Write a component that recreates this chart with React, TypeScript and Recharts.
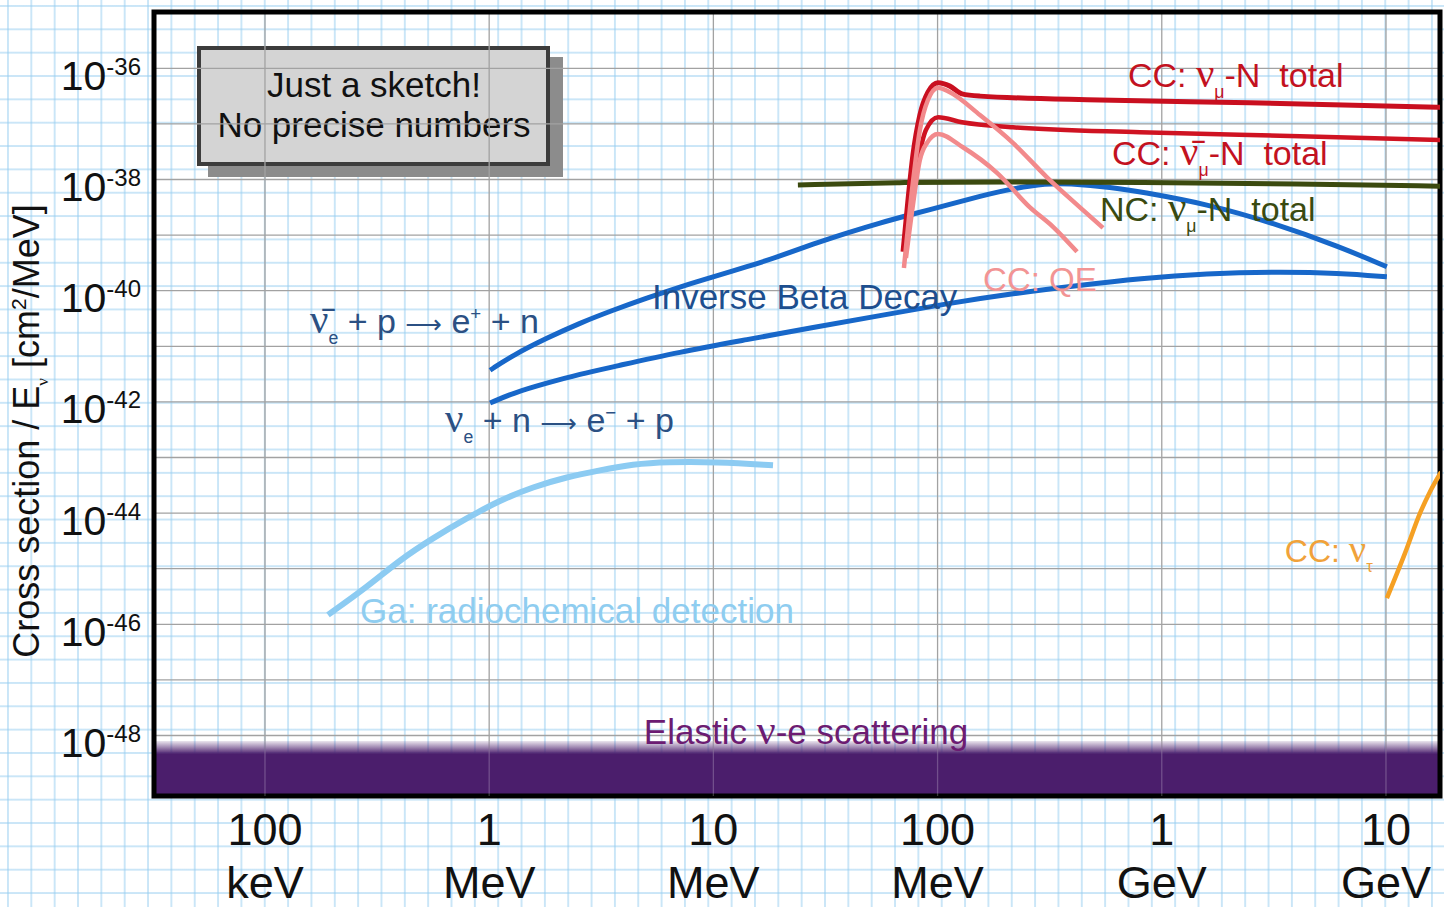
import React from 'react';
import {
  CartesianGrid,
  ComposedChart,
  Line,
  ReferenceArea,
  ReferenceDot,
  ReferenceLine,
  XAxis,
  YAxis,
} from 'recharts';

// x = log10(E / MeV), y = log10(sigma / E  in cm^2/MeV)
const xDomain: [number, number] = [-1.495, 4.241];
const yDomain: [number, number] = [-49.088, -34.987];

const xTicks = [-1, 0, 1, 2, 3, 4];
const xTickNumber = ['100', '1', '10', '100', '1', '10'];
const xTickUnit = ['keV', 'MeV', 'MeV', 'MeV', 'GeV', 'GeV'];

const yTicks = [-36, -37, -38, -39, -40, -41, -42, -43, -44, -45, -46, -47, -48];
const yLabelled = [-36, -38, -40, -42, -44, -46, -48];

const elasticTop = -48.1;

const ccNuTotal = [
  { e: 1.846, s: -39.3 },
  { e: 1.868, s: -38.37 },
  { e: 1.89, s: -37.56 },
  { e: 1.921, s: -36.84 },
  { e: 1.957, s: -36.43 },
  { e: 2.002, s: -36.26 },
  { e: 2.055, s: -36.32 },
  { e: 2.109, s: -36.46 },
  { e: 2.189, s: -36.5 },
  { e: 2.724, s: -36.57 },
  { e: 3.393, s: -36.62 },
  { e: 4.246, s: -36.7 },
];

const ccNubarTotal = [
  { e: 1.855, s: -39.27 },
  { e: 1.881, s: -38.37 },
  { e: 1.913, s: -37.65 },
  { e: 1.948, s: -37.11 },
  { e: 2.002, s: -36.88 },
  { e: 2.109, s: -36.97 },
  { e: 2.336, s: -37.06 },
  { e: 2.903, s: -37.15 },
  { e: 3.616, s: -37.22 },
  { e: 4.246, s: -37.29 },
];

const qeNu = [
  { e: 1.85, s: -39.59 },
  { e: 1.886, s: -38.19 },
  { e: 1.921, s: -37.11 },
  { e: 1.957, s: -36.57 },
  { e: 2.002, s: -36.35 },
  { e: 2.055, s: -36.43 },
  { e: 2.189, s: -36.84 },
  { e: 2.336, s: -37.34 },
  { e: 2.488, s: -37.96 },
  { e: 2.635, s: -38.5 },
  { e: 2.738, s: -38.87 },
];

const qeNubar = [
  { e: 1.859, s: -39.41 },
  { e: 1.89, s: -38.46 },
  { e: 1.921, s: -37.65 },
  { e: 1.953, s: -37.34 },
  { e: 2.002, s: -37.18 },
  { e: 2.113, s: -37.42 },
  { e: 2.265, s: -37.88 },
  { e: 2.412, s: -38.5 },
  { e: 2.515, s: -38.85 },
  { e: 2.622, s: -39.3 },
];

const ncTotal = [
  { e: 1.377, s: -38.1 },
  { e: 1.832, s: -38.05 },
  { e: 2.278, s: -38.04 },
  { e: 2.903, s: -38.05 },
  { e: 3.616, s: -38.08 },
  { e: 4.246, s: -38.12 },
];

const ibdNubar = [
  { e: 0.004, s: -41.43 },
  { e: 0.106, s: -41.16 },
  { e: 0.258, s: -40.85 },
  { e: 0.405, s: -40.58 },
  { e: 0.552, s: -40.35 },
  { e: 0.704, s: -40.13 },
  { e: 0.851, s: -39.93 },
  { e: 0.998, s: -39.75 },
  { e: 1.15, s: -39.57 },
  { e: 1.297, s: -39.38 },
  { e: 1.444, s: -39.16 },
  { e: 1.596, s: -38.96 },
  { e: 1.743, s: -38.78 },
  { e: 1.89, s: -38.62 },
  { e: 2.042, s: -38.46 },
  { e: 2.189, s: -38.3 },
  { e: 2.336, s: -38.16 },
  { e: 2.488, s: -38.07 },
  { e: 2.577, s: -38.07 },
  { e: 2.782, s: -38.14 },
  { e: 2.903, s: -38.22 },
  { e: 3.202, s: -38.44 },
  { e: 3.496, s: -38.78 },
  { e: 3.795, s: -39.21 },
  { e: 4.004, s: -39.57 },
];

const ibdNu = [
  { e: 0.004, s: -42.02 },
  { e: 0.106, s: -41.84 },
  { e: 0.258, s: -41.66 },
  { e: 0.405, s: -41.5 },
  { e: 0.552, s: -41.37 },
  { e: 0.851, s: -41.1 },
  { e: 1.15, s: -40.88 },
  { e: 1.444, s: -40.66 },
  { e: 1.743, s: -40.45 },
  { e: 2.042, s: -40.23 },
  { e: 2.336, s: -40.05 },
  { e: 2.635, s: -39.9 },
  { e: 2.903, s: -39.78 },
  { e: 3.202, s: -39.69 },
  { e: 3.496, s: -39.66 },
  { e: 3.795, s: -39.68 },
  { e: 4.004, s: -39.75 },
];

const gaRadiochem = [
  { e: -0.719, s: -45.83 },
  { e: -0.545, s: -45.33 },
  { e: -0.398, s: -44.84 },
  { e: -0.251, s: -44.45 },
  { e: -0.099, s: -44.09 },
  { e: 0.048, s: -43.77 },
  { e: 0.195, s: -43.53 },
  { e: 0.347, s: -43.35 },
  { e: 0.494, s: -43.23 },
  { e: 0.641, s: -43.12 },
  { e: 0.793, s: -43.08 },
  { e: 1.016, s: -43.08 },
  { e: 1.266, s: -43.14 },
];

const ccTau = [
  { e: 4.004, s: -45.53 },
  { e: 4.085, s: -44.72 },
  { e: 4.152, s: -44.0 },
  { e: 4.196, s: -43.62 },
  { e: 4.246, s: -43.26 },
];

const FONT = '"Liberation Sans", Arial, Helvetica, sans-serif';
const GREEK = '"Liberation Serif", "DejaVu Serif", serif';
const SYMBOL = '"DejaVu Sans", sans-serif';

type Part = { t: string; k?: 'sub' | 'sup' | 'greek' | 'sym' };
type Note = { e: number; s: number; color: string; size: number; parts: Part[] };

const notes: Note[] = [
  {
    e: 2.849, s: -36.336, color: '#c3121f', size: 34,
    parts: [{ t: 'CC: ' }, { t: 'ν', k: 'greek' }, { t: 'μ', k: 'sub' }, { t: '-N  total' }],
  },
  {
    e: 2.778, s: -37.739, color: '#c3121f', size: 34,
    parts: [{ t: 'CC: ' }, { t: 'ν\u0304', k: 'greek' }, { t: 'μ', k: 'sub' }, { t: '-N  total' }],
  },
  {
    e: 2.724, s: -38.746, color: '#3a4a10', size: 34,
    parts: [{ t: 'NC: ' }, { t: 'ν', k: 'greek' }, { t: 'μ', k: 'sub' }, { t: '-N  total' }],
  },
  { e: 2.203, s: -40.005, color: '#f29494', size: 33, parts: [{ t: 'CC: QE' }] },
  { e: 0.726, s: -40.33, color: '#1d4f8f', size: 35, parts: [{ t: 'Inverse Beta Decay' }] },
  {
    e: -0.799, s: -40.761, color: '#2b5083', size: 34,
    parts: [
      { t: 'ν\u0304', k: 'greek' }, { t: 'e', k: 'sub' }, { t: ' + p ' }, { t: '⟶', k: 'sym' },
      { t: ' e' }, { t: '+', k: 'sup' }, { t: ' + n' },
    ],
  },
  {
    e: -0.197, s: -42.541, color: '#2b5083', size: 34,
    parts: [
      { t: 'ν', k: 'greek' }, { t: 'e', k: 'sub' }, { t: ' + n ' }, { t: '⟶', k: 'sym' },
      { t: ' e' }, { t: '−', k: 'sup' }, { t: ' + p' },
    ],
  },
  { e: -0.576, s: -45.97, color: '#8fcdf0', size: 35, parts: [{ t: 'Ga: radiochemical detection' }] },
  {
    e: 0.69, s: -48.153, color: '#6c1c72', size: 35,
    parts: [{ t: 'Elastic ' }, { t: 'ν', k: 'greek' }, { t: '-e scattering' }],
  },
  {
    e: 3.549, s: -44.878, color: '#f0a23a', size: 32,
    parts: [{ t: 'CC: ' }, { t: 'ν', k: 'greek' }, { t: 'τ', k: 'sub' }],
  },
];

function renderParts(parts: Part[], size: number) {
  let shift = 0;
  return parts.map((p, i) => {
    let target = 0;
    let fs = size;
    let family: string | undefined;
    if (p.k === 'sub') {
      target = size * 0.32;
      fs = size * 0.52;
    } else if (p.k === 'sup') {
      target = -size * 0.38;
      fs = size * 0.55;
    } else if (p.k === 'greek') {
      family = GREEK;
      fs = size * 1.2;
    } else if (p.k === 'sym') {
      family = SYMBOL;
      fs = size * 0.75;
    }
    const dy = target - shift;
    shift = target;
    return (
      <tspan key={i} dy={dy} fontSize={fs} fontFamily={family}>
        {p.t}
      </tspan>
    );
  });
}

const NoteLabel = (note: Note) => (props: any) => {
  const { x, y } = props.viewBox;
  return (
    <text x={x} y={y} fill={note.color} fontSize={note.size} fontFamily={FONT} style={{ whiteSpace: 'pre' }}>
      {renderParts(note.parts, note.size)}
    </text>
  );
};

const XTick = (props: any) => {
  const { x, y, payload } = props;
  const i = xTicks.indexOf(payload.value);
  return (
    <g>
      <text x={x} y={y} dy={41} textAnchor="middle" fontSize={45} fill="#111" fontFamily={FONT}>
        {xTickNumber[i]}
      </text>
      <text x={x} y={y} dy={94} textAnchor="middle" fontSize={45} fill="#111" fontFamily={FONT}>
        {xTickUnit[i]}
      </text>
    </g>
  );
};

const YTick = (props: any) => {
  const { x, y, payload } = props;
  if (!yLabelled.includes(payload.value)) return <g />;
  return (
    <text x={x} y={y} dx={-5} dy={21.5} textAnchor="end" fill="#111" fontFamily={FONT}>
      <tspan fontSize={41}>10</tspan>
      <tspan fontSize={24} dy={-15}>{String(payload.value)}</tspan>
    </text>
  );
};

const YTitle = (props: any) => {
  const vb = props.viewBox;
  const cx = vb.x + 39;
  const cy = vb.y + vb.height / 2 + 27;
  return (
    <text
      transform={`translate(${cx},${cy}) rotate(-90)`}
      textAnchor="middle"
      fontSize={36}
      fill="#111"
      fontFamily={FONT}
    >
      <tspan>Cross section / E</tspan>
      <tspan fontSize={17} dy={9} fontFamily={GREEK}>ν</tspan>
      <tspan dy={-9}> [cm</tspan>
      <tspan fontSize={21} dy={-13}>2</tspan>
      <tspan dy={13}>/MeV]</tspan>
    </text>
  );
};

const paper = 'rgba(150, 205, 240, 0.5)';

export default function App() {
  return (
    <div
      style={{
        position: 'relative',
        width: 1444,
        height: 907,
        overflow: 'hidden',
        backgroundColor: '#fff',
        backgroundImage: `linear-gradient(to right, ${paper} 2px, transparent 2px), linear-gradient(to bottom, ${paper} 2px, transparent 2px)`,
        backgroundSize: '23.354px 23.354px',
        backgroundPosition: '7px 5px',
      }}
    >
      <style>{'body{margin:0}'}</style>
      <svg width={1444} height={907} style={{ position: 'absolute', left: 0, top: 0 }}>
        <rect x={208} y={57} width={355} height={120} fill="#8c8c8c" />
        <rect x={199} y={48} width={349} height={116} fill="#d4d4d4" stroke="#3c3c3c" strokeWidth={4} />
        <text x={374} y={97} textAnchor="middle" fontSize={35} fill="#111" fontFamily={FONT}>
          Just a sketch!
        </text>
        <text x={374} y={137} textAnchor="middle" fontSize={35} fill="#111" fontFamily={FONT}>
          No precise numbers
        </text>
      </svg>
      <div style={{ position: 'absolute', left: 0, top: 0 }}>
        <ComposedChart
          width={1444}
          height={907}
          margin={{ top: 12, right: 4, bottom: 0, left: 0 }}
          style={{ fontFamily: FONT }}
        >
          <defs>
            <linearGradient id="elasticFill" x1="0" y1="0" x2="0" y2="1">
              <stop offset="0%" stopColor="#4b1e6c" stopOpacity={0.12} />
              <stop offset="12%" stopColor="#4b1e6c" stopOpacity={0.55} />
              <stop offset="24%" stopColor="#4b1e6c" stopOpacity={1} />
              <stop offset="100%" stopColor="#4b1e6c" stopOpacity={1} />
            </linearGradient>
          </defs>
          <CartesianGrid stroke="#a2a2a2" strokeWidth={1.3} />
          <XAxis
            type="number"
            dataKey="e"
            domain={xDomain}
            ticks={xTicks}
            allowDataOverflow
            axisLine={false}
            tickLine={false}
            height={111}
            tick={<XTick />}
            interval={0}
          />
          <YAxis
            type="number"
            dataKey="s"
            domain={yDomain}
            ticks={yTicks}
            allowDataOverflow
            axisLine={false}
            tickLine={false}
            width={154}
            tick={<YTick />}
            interval={0}
            label={{ content: <YTitle /> }}
          />
          <ReferenceArea
            x1={xDomain[0]}
            x2={xDomain[1]}
            y1={yDomain[0]}
            y2={elasticTop}
            fill="url(#elasticFill)"
            fillOpacity={1}
            stroke="none"
          />
          {xTicks.map((t) => (
            <ReferenceLine
              key={t}
              segment={[{ x: t, y: yDomain[0] }, { x: t, y: elasticTop }]}
              stroke="rgba(255,255,255,0.22)"
              strokeWidth={1.3}
            />
          ))}
          {notes.map((n, i) => (
            <ReferenceDot key={i} x={n.e} y={n.s} r={0} fill="none" stroke="none" label={NoteLabel(n)} />
          ))}
          <Line data={ibdNubar} dataKey="s" type="basis" stroke="#1767c9" strokeWidth={5} dot={false} isAnimationActive={false} />
          <Line data={ibdNu} dataKey="s" type="basis" stroke="#1767c9" strokeWidth={5} dot={false} isAnimationActive={false} />
          <Line data={ncTotal} dataKey="s" type="basis" stroke="#3b4a0f" strokeWidth={5} dot={false} isAnimationActive={false} />
          <Line data={ccNubarTotal} dataKey="s" type="monotone" stroke="#cf1322" strokeWidth={4.5} dot={false} isAnimationActive={false} />
          <Line data={ccNuTotal} dataKey="s" type="monotone" stroke="#c90f1f" strokeWidth={5} dot={false} isAnimationActive={false} />
          <Line data={qeNu} dataKey="s" type="monotone" stroke="#f28a8c" strokeWidth={4.5} dot={false} isAnimationActive={false} />
          <Line data={qeNubar} dataKey="s" type="monotone" stroke="#f28a8c" strokeWidth={4.5} dot={false} isAnimationActive={false} />
          <Line data={gaRadiochem} dataKey="s" type="basis" stroke="#8ccbf2" strokeWidth={6} dot={false} isAnimationActive={false} />
          <Line data={ccTau} dataKey="s" type="monotone" stroke="#f5a023" strokeWidth={4.5} dot={false} isAnimationActive={false} />
          <ReferenceArea
            x1={xDomain[0]}
            x2={xDomain[1]}
            y1={yDomain[0]}
            y2={yDomain[1]}
            fill="none"
            stroke="#000"
            strokeWidth={5}
            ifOverflow="visible"
          />
        </ComposedChart>
      </div>
    </div>
  );
}
